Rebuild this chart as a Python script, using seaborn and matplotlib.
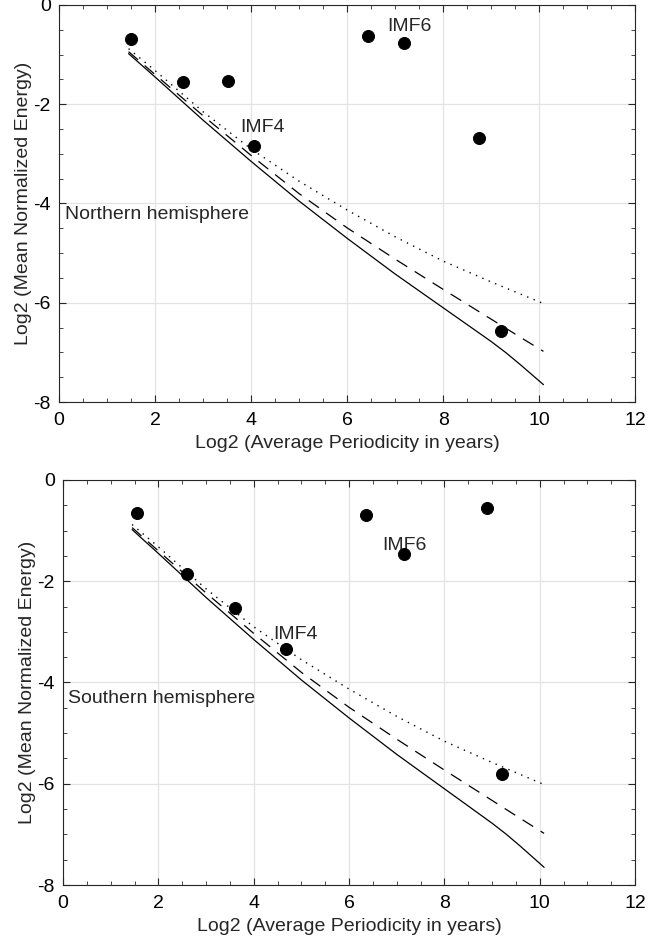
import seaborn as sns
import matplotlib.pyplot as plt
import pandas as pd

curve_x = [1.45, 2.0, 3.0, 4.0, 5.0, 6.0, 7.0, 8.0, 9.0, 9.3, 9.6, 10.09]
solid_y = [-0.98, -1.45, -2.32, -3.15, -3.95, -4.70, -5.42, -6.10, -6.78, -7.00, -7.24, -7.65]
dashed_y = [-0.94, -1.40, -2.23, -3.03, -3.80, -4.49, -5.12, -5.73, -6.33, -6.51, -6.69, -6.98]
dotted_x = [1.45, 2.0, 3.0, 4.0, 5.0, 6.0, 7.0, 8.0, 9.0, 9.6, 10.05]
dotted_y = [-0.88, -1.32, -2.15, -2.90, -3.55, -4.13, -4.67, -5.16, -5.58, -5.82, -6.00]

north_x = [1.50, 2.58, 3.53, 4.06, 6.43, 7.18, 8.75, 9.21]
north_y = [-0.69, -1.55, -1.53, -2.84, -0.62, -0.77, -2.68, -6.57]
south_x = [1.55, 2.61, 3.61, 4.68, 6.35, 7.16, 8.89, 9.21]
south_y = [-0.66, -1.85, -2.52, -3.33, -0.70, -1.46, -0.55, -5.80]

panels = [
  ("Northern hemisphere", north_x, north_y, (3.77, -2.46), (6.83, -0.44), (0.12, -4.23)),
  ("Southern hemisphere", south_x, south_y, (4.42, -3.05), (6.70, -1.30), (0.10, -4.31)),
]

sns.set_style("ticks")
plt.rcParams["font.family"] = ["Liberation Sans", "DejaVu Sans"]
plt.rcParams["font.size"] = 14
plt.rcParams["axes.unicode_minus"] = False

fig = plt.figure(figsize=(6.7, 9.43), dpi=100)
boxes = [[0.088, 0.5737, 0.860, 0.421], [0.094, 0.0615, 0.854, 0.4295]]

for box, (name, px, py, imf4, imf6, lab) in zip(boxes, panels):
  ax = fig.add_axes(box)
  sns.lineplot(x=curve_x, y=solid_y, ax=ax, color="black", linewidth=0.9, sort=False)
  sns.lineplot(x=curve_x, y=dashed_y, ax=ax, color="black", linewidth=0.9,
               linestyle=(0, (10, 7)), sort=False)
  sns.lineplot(x=dotted_x, y=dotted_y, ax=ax, color="black", linewidth=1.0,
               linestyle=(0, (1, 4)), sort=False)
  sns.scatterplot(x=px, y=py, ax=ax, color="black", s=75, edgecolor="black", zorder=5)
  ax.text(imf4[0], imf4[1], "IMF4", va="center", ha="left", fontsize=14)
  ax.text(imf6[0], imf6[1], "IMF6", va="center", ha="left", fontsize=14)
  ax.text(lab[0], lab[1], name, va="center", ha="left", fontsize=14)
  ax.set_xlim(0, 12)
  ax.set_ylim(-8, 0)
  ax.set_xticks(range(0, 13, 2))
  ax.set_yticks(range(-8, 1, 2))
  ax.set_xticks([i * 0.5 for i in range(25)], minor=True)
  ax.set_yticks([-8 + i * 0.5 for i in range(17)], minor=True)
  ax.tick_params(which="both", direction="in", top=True, right=True, colors="#262626",
                 labelcolor="black", labelsize=14)
  ax.tick_params(axis="x", pad=7.5)
  ax.tick_params(axis="y", pad=6)
  ax.tick_params(which="major", length=5)
  ax.tick_params(which="minor", length=3)
  ax.grid(True, which="major", color="#e3e3e3", linewidth=0.9)
  ax.set_axisbelow(True)
  for s in ax.spines.values():
    s.set_color("#262626")
    s.set_linewidth(0.8)
  ax.set_xlabel("Log2 (Average Periodicity in years)", fontsize=14, labelpad=4)
  ax.set_ylabel("Log2 (Mean Normalized Energy)", fontsize=14, labelpad=1)

plt.savefig("out.png", dpi=100)
